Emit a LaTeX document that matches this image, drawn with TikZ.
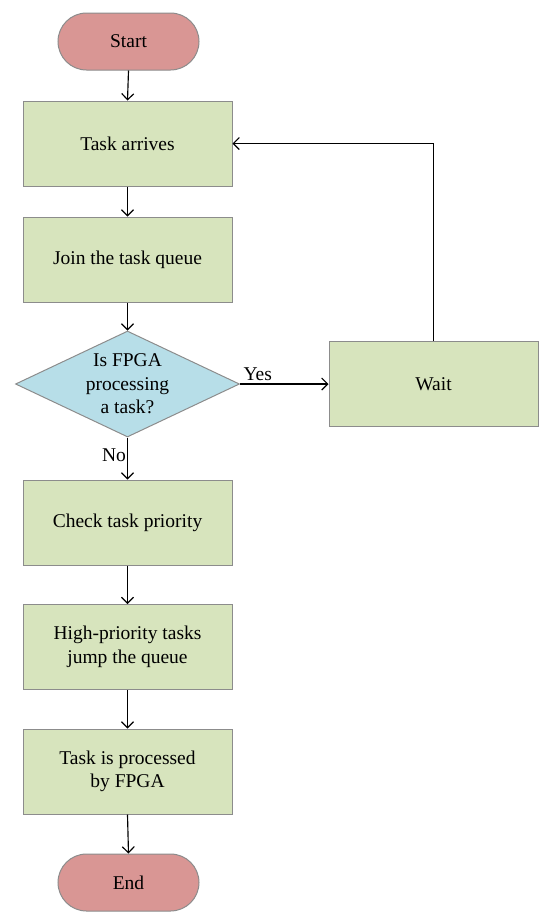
\documentclass[tikz,border=0pt]{standalone}
\usepackage{fontspec}
\setmainfont{Liberation Serif}
\usetikzlibrary{shapes.geometric,arrows.meta}
\definecolor{termfill}{HTML}{D99694}
\definecolor{boxfill}{HTML}{D7E4BD}
\definecolor{decfill}{HTML}{B7DEE8}
\definecolor{edge}{HTML}{8C8C8C}
\tikzset{
  base/.style={draw=edge, line width=1pt, align=center, font=\fontsize{19.5}{23.5}\selectfont, inner sep=0pt},
  term/.style={base, fill=termfill, rounded corners=28.5pt, minimum width=141pt, minimum height=57pt},
  procbox/.style={base, fill=boxfill, minimum width=209pt, minimum height=85pt},
  decbox/.style={base, fill=decfill, diamond, aspect=2.11, minimum width=224pt, minimum height=106pt},
  arr/.style={line width=1.15pt, -{Straight Barb[length=6pt,width=12pt]}},
  lbl/.style={font=\fontsize{19.5}{23.5}\selectfont, inner sep=0pt}
}
\begin{document}
\begin{tikzpicture}[x=1pt,y=-1pt]
\path[use as bounding box] (0,0) rectangle (550,922);
\node[term] (start) at (128.5,41.5) {Start};
\node[procbox] (task) at (127.5,143.5) {Task arrives};
\node[procbox] (join) at (127.5,259.5) {Join the task queue};
\node[decbox] (dec) at (127.5,384) {Is FPGA\\processing\\a task?};
\node[procbox] (wait) at (433.5,384) {Wait};
\node[procbox] (check) at (127.5,522.5) {Check task priority};
\node[procbox] (high) at (127.5,647) {High-priority tasks\\jump the queue};
\node[procbox] (proc) at (127.5,771.5) {Task is processed\\by FPGA};
\node[term] (end) at (128.5,882.5) {End};
\draw[arr] (start.south) -- (task.north);
\draw[arr] (task.south) -- (join.north);
\draw[arr] (join.south) -- (dec.north);
\draw[arr] (dec.east) -- node[lbl, above, pos=0.2, yshift=3pt] (yes) {Yes} (wait.west);
\draw[arr] (dec.south) -- node[lbl, left, pos=0.42, xshift=-1pt] (no) {No} (check.north);
\draw[arr] (wait.north) |- (task.east);
\draw[arr] (check.south) -- (high.north);
\draw[arr] (high.south) -- (proc.north);
\draw[arr] (proc.south) -- (end.north);
\end{tikzpicture}
\end{document}
